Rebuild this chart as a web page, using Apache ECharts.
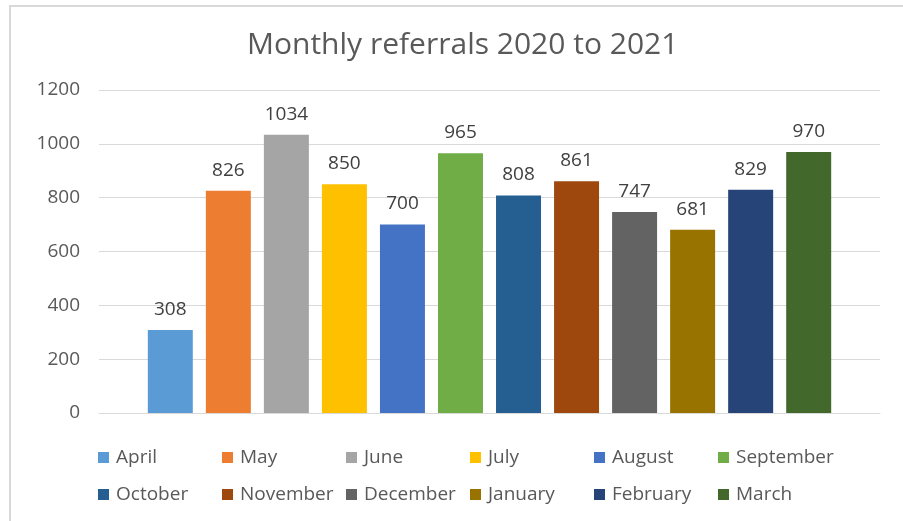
<!DOCTYPE html>
<html>
<head>
<meta charset="utf-8">
<script src="https://cdn.jsdelivr.net/npm/echarts@6/dist/echarts.min.js"></script>
<style>
  html, body { margin: 0; padding: 0; background: #fff; }
  #main { width: 903px; height: 521px; }
</style>
</head>
<body>
<div id="main"></div>
<script>
// months in chart order (Apr 2020 - Mar 2021)
var months = ['April', 'May', 'June', 'July', 'August', 'September',
  'October', 'November', 'December', 'January', 'February', 'March'];
var referrals = [308, 826, 1034, 850, 700, 965, 808, 861, 747, 681, 829, 970];
var yTicks = [0, 200, 400, 600, 800, 1000, 1200];
var barColors = ['#5B9BD5', '#ED7D31', '#A5A5A5', '#FFC000', '#4472C4', '#70AD47',
  '#255E91', '#9E480E', '#636363', '#997300', '#264478', '#43682B'];

var chart = echarts.init(document.getElementById('main'));

// one series per month so every month gets its own legend entry
var series = months.map(function (m, i) {
  return {
    name: m,
    type: 'bar',
    data: [referrals[i]],
    barGap: '29%',
    barCategoryGap: '12.5%',
    itemStyle: { color: barColors[i] },
    label: {
      show: true,
      position: 'top',
      distance: 11,
      color: '#404040',
      fontSize: 19,
      lineHeight: 19,
      fontFamily: 'Open Sans'
    }
  };
});

// legend laid out as two rows of six, columns aligned like the original
function legendRow(names, top) {
  return {
    data: names,
    left: 98,
    top: top,
    padding: 0,
    itemWidth: 11,
    itemHeight: 11,
    itemGap: 8,
    icon: 'rect',
    formatter: '{a|{name}}',
    textStyle: {
      rich: {
        a: {
          width: 98,
          padding: [0, 0, 0, 2],
          lineHeight: 19,
          fontFamily: 'Open Sans',
          fontSize: 19,
          color: '#595959'
        }
      }
    }
  };
}

var option = {
  animation: false,
  backgroundColor: '#fff',
  title: {
    text: 'Monthly referrals 2020 to 2021',
    left: 242,
    top: 25,
    textStyle: {
      fontFamily: 'Open Sans',
      fontWeight: 'normal',
      fontSize: 30,
      color: '#595959'
    }
  },
  graphic: [{
    type: 'rect',
    shape: { x: 10, y: 6, width: 1000, height: 600 },
    style: { fill: 'none', stroke: '#d9d9d9', lineWidth: 2 },
    silent: true
  }],
  legend: [
    legendRow(months.slice(0, 6), 448),
    legendRow(months.slice(6), 485)
  ],
  grid: { left: 99, right: 23, top: 90, bottom: 108 },
  xAxis: {
    type: 'category',
    data: ['2020 to 2021'],
    axisLabel: { show: false },
    axisTick: { show: false },
    axisLine: { lineStyle: { color: '#d9d9d9' } }
  },
  yAxis: {
    type: 'value',
    min: yTicks[0],
    max: yTicks[yTicks.length - 1],
    interval: 200,
    axisLabel: {
      margin: 19,
      formatter: function (v) { return String(v); },
      fontFamily: 'Open Sans',
      fontSize: 19,
      color: '#595959'
    },
    splitLine: { lineStyle: { color: '#d9d9d9' } }
  },
  series: series
};

chart.setOption(option);
</script>
</body>
</html>
